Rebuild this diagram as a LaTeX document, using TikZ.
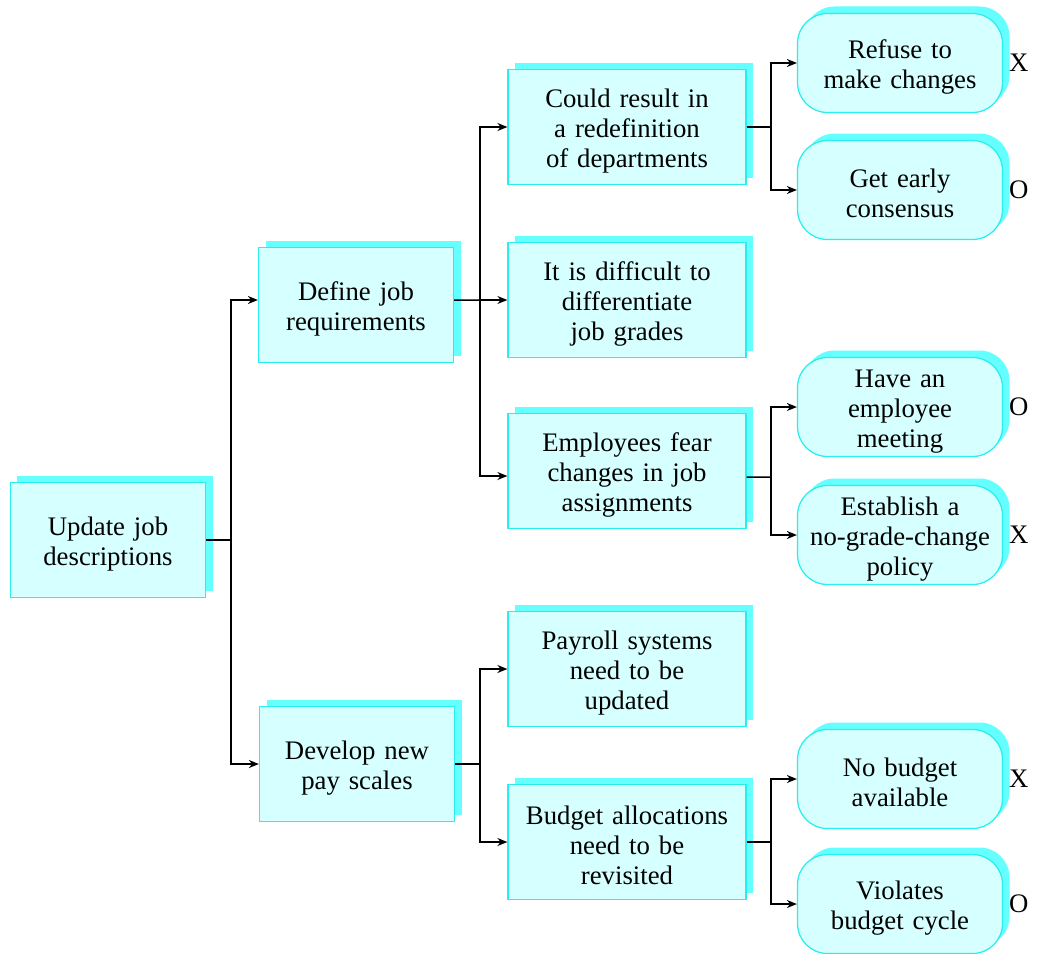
\documentclass[tikz,border=0pt]{standalone}
\usepackage{fontspec}
\setmainfont{Liberation Serif}
\usetikzlibrary{shadows,arrows.meta}
\definecolor{boxfill}{RGB}{214,255,255}
\definecolor{boxline}{RGB}{40,238,238}
\definecolor{boxshade}{RGB}{102,255,255}
\begin{document}
\begin{tikzpicture}[x=0.4pt,y=-0.4pt,>={Stealth[length=4pt,width=3.2pt]},font=\fontsize{10.7}{12}\selectfont,
	box/.style={draw=boxline,line width=0.5pt,fill=boxfill,align=center,inner sep=0pt,
		execute at begin node={\rule{0pt}{10.4pt}},
		general shadow={shadow xshift=2.8pt,shadow yshift=2.8pt,fill=boxshade}},
	sq/.style={box,text width=74pt,minimum width=78pt,minimum height=46pt},
	wide/.style={box,text width=92pt,minimum width=95.2pt,minimum height=46pt},
	rnd/.style={box,text width=80pt,rounded corners=12pt,minimum width=82pt,minimum height=39.6pt},
	verdict/.style={anchor=west,inner sep=0pt,xshift=2.2pt},
	link/.style={line width=0.6pt}]
	\useasboundingbox (0,0) rectangle (1037,953);
	
	% goal and the two tasks
	\node[sq] (upd) at (108,540) {Update job\\descriptions};
	\node[sq] (def) at (356,305) {Define job\\requirements};
	\node[sq] (dev) at (357,764) {Develop new\\pay scales};
	
	% problems
	\node[wide] (red) at (627,127) {Could result in\\a redefinition\\of departments};
	\node[wide] (dif) at (627,300) {It is difficult to\\differentiate\\job grades};
	\node[wide] (fear) at (627,471) {Employees fear\\changes in job\\assignments};
	\node[wide] (pay) at (627,669) {Payroll systems\\need to be\\updated};
	\node[wide] (bud) at (627,842) {Budget allocations\\need to be\\revisited};
	
	% countermeasures
	\node[rnd] (ref) at (900,63) {Refuse to\\make changes};
	\node[rnd] (early) at (900,190) {Get early\\consensus};
	\node[rnd] (meet) at (900,407) {Have an\\employee\\meeting};
	\node[rnd] (pol) at (900,535) {Establish a\\no-grade-change\\policy};
	\node[rnd] (nob) at (900,779) {No budget\\available};
	\node[rnd] (cyc) at (900,904) {Violates\\budget cycle};
	
	\node[verdict] (refv) at (ref.east) {X};
	\node[verdict] (earlyv) at (early.east) {O};
	\node[verdict] (meetv) at (meet.east) {O};
	\node[verdict] (polv) at (pol.east) {X};
	\node[verdict] (nobv) at (nob.east) {X};
	\node[verdict] (cycv) at (cyc.east) {O};
	
	% where the lines meet the boxes off centre
	\coordinate (defin) at ([yshift=2pt]def.west);
	\coordinate (defout) at ([yshift=2pt]def.east);
	\coordinate (fearin) at ([yshift=-2pt]fear.west);
	\coordinate (fearout) at ([yshift=-2.4pt]fear.east);
	
	% branch points
	\coordinate (j1) at (231,540);
	\coordinate (j2) at (480,300);
	\coordinate (j3) at (480,764);
	\coordinate (j4) at (771,127);
	\coordinate (j5) at (771,477);
	\coordinate (j6) at (771,842);
	
	\draw[link] (upd.east) -- (j1);
	\draw[link,->] (j1) |- (defin);
	\draw[link,->] (j1) |- (dev.west);
	
	\draw[link] (defout) -- (j2);
	\draw[link,->] (j2) |- (red.west);
	\draw[link,->] (j2) -- (dif.west);
	\draw[link,->] (j2) |- (fearin);
	
	\draw[link] (dev.east) -- (j3);
	\draw[link,->] (j3) |- (pay.west);
	\draw[link,->] (j3) |- (bud.west);
	
	\draw[link] (red.east) -- (j4);
	\draw[link,->] (j4) |- (ref.west);
	\draw[link,->] (j4) |- (early.west);
	
	\draw[link] (fearout) -- (j5);
	\draw[link,->] (j5) |- (meet.west);
	\draw[link,->] (j5) |- (pol.west);
	
	\draw[link] (bud.east) -- (j6);
	\draw[link,->] (j6) |- (nob.west);
	\draw[link,->] (j6) |- (cyc.west);
\end{tikzpicture}
\end{document}
